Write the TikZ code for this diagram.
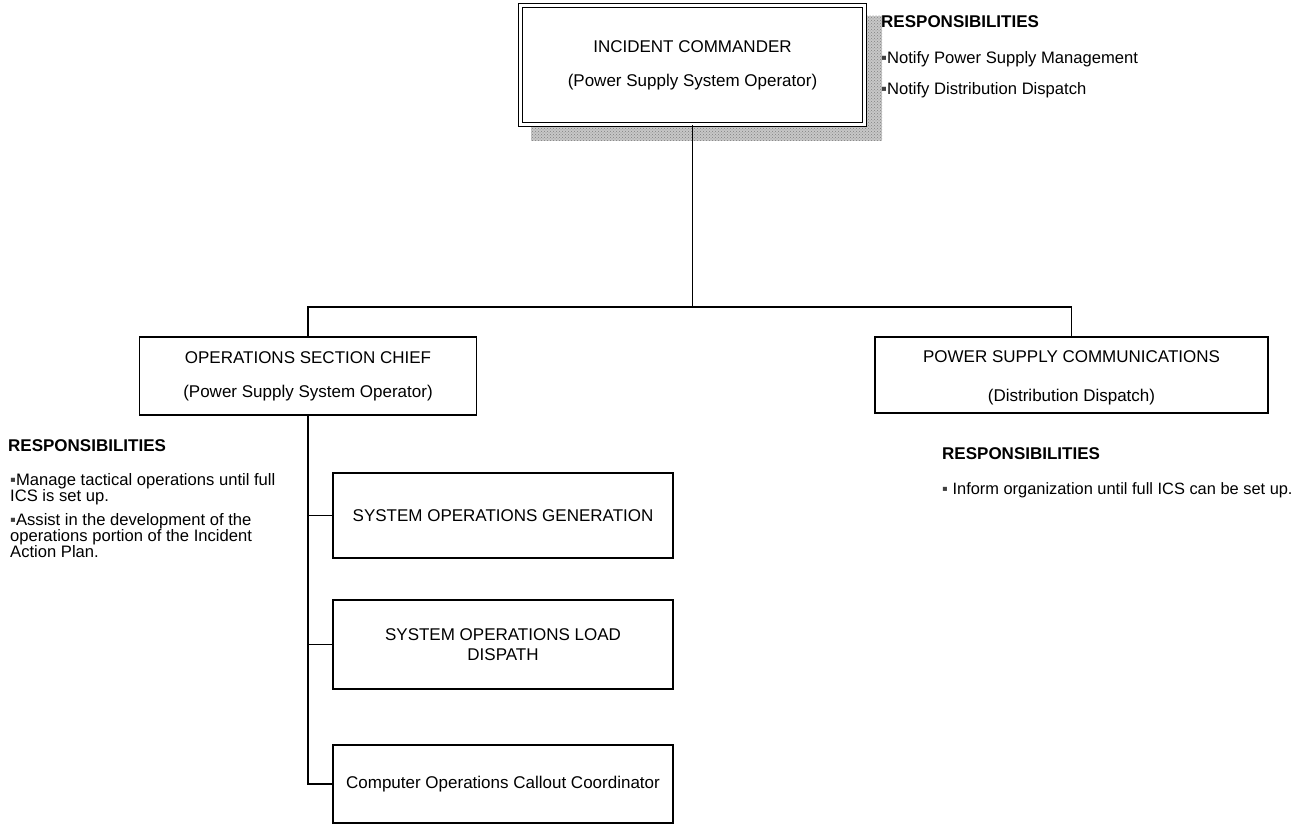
\documentclass[tikz,border=0pt]{standalone}
\usepackage{fontspec}
\setmainfont{Liberation Sans}
\usetikzlibrary{patterns}
\begin{document}
\begin{tikzpicture}[x=1pt,y=-1pt,
  box/.style={draw, line width=1.4pt, fill=white, inner sep=0pt, align=center,
              font=\fontsize{17}{20}\selectfont},
  link/.style={line width=1.5pt},
  resp/.style={anchor=base west, inner sep=0pt, font=\fontsize{16.6}{20}\selectfont},
  head/.style={anchor=base west, inner sep=0pt, font=\bfseries\fontsize{17}{20}\selectfont}]
\useasboundingbox (0,0) rectangle (1295,826);
\newcommand{\sqbullet}{{\color{black!75}▪}}

% speckled drop shadow behind the commander box
\fill[black!22] (531,16) rectangle (882,141);
\fill[pattern=crosshatch dots, pattern color=black!50] (531,16) rectangle (882,141);

% boxes
\node[box, double, double distance=2.8pt, minimum width=344pt, minimum height=119pt]
  (ic) at (692.5,65) {INCIDENT COMMANDER\\[14pt](Power Supply System Operator)};
\node[box, minimum width=337pt, minimum height=78pt]
  (osc) at (308,376) {OPERATIONS SECTION CHIEF\\[14pt](Power Supply System Operator)};
\node[box, minimum width=393pt, minimum height=76pt]
  (psc) at (1071.5,375) {\rule{0pt}{18pt}POWER SUPPLY COMMUNICATIONS\\[19pt](Distribution Dispatch)};
\node[box, minimum width=340pt, minimum height=85pt]
  (sog) at (503,515.5) {SYSTEM OPERATIONS GENERATION};
\node[box, minimum width=340pt, minimum height=89pt]
  (sold) at (503,644.5) {SYSTEM OPERATIONS LOAD\\DISPATH};
\node[box, minimum width=340pt, minimum height=78pt]
  (cocc) at (503,784) {Computer Operations Callout Coordinator};

% connectors
\coordinate (bus) at (692.5,307);
\draw[link] (ic.south) -- (bus);
\draw[link] (osc.north) |- (bus) -| (psc.north);
\draw[link] (osc.south) |- (cocc.west);
\draw[link] (sog.west) -- (sog.west -| osc.south);
\draw[link] (sold.west) -- (sold.west -| osc.south);

% responsibilities of the incident commander
\node[head] (ichead) at (881,28) {RESPONSIBILITIES};
\node[resp] (ic1) at (881,64) {\sqbullet Notify Power Supply Management};
\node[resp] (ic2) at (881,95) {\sqbullet Notify Distribution Dispatch};

% responsibilities of the operations section chief
\node[head] (oschead) at (8,451) {RESPONSIBILITIES};
\node[resp] (osc1a) at (10,485) {\sqbullet Manage tactical operations until full};
\node[resp] (osc1b) at (10,501) {ICS is set up.};
\node[resp] (osc2a) at (10,525) {\sqbullet Assist in the development of the};
\node[resp] (osc2b) at (10,541) {operations portion of the Incident};
\node[resp] (osc2c) at (10,557) {Action Plan.};

% responsibilities of power supply communications
\node[head] (pschead) at (942,459) {RESPONSIBILITIES};
\node[resp, font=\fontsize{16.4}{20}\selectfont] (psc1) at (942,494)
  {\sqbullet{} Inform organization until full ICS can be set up.};
\end{tikzpicture}
\end{document}
